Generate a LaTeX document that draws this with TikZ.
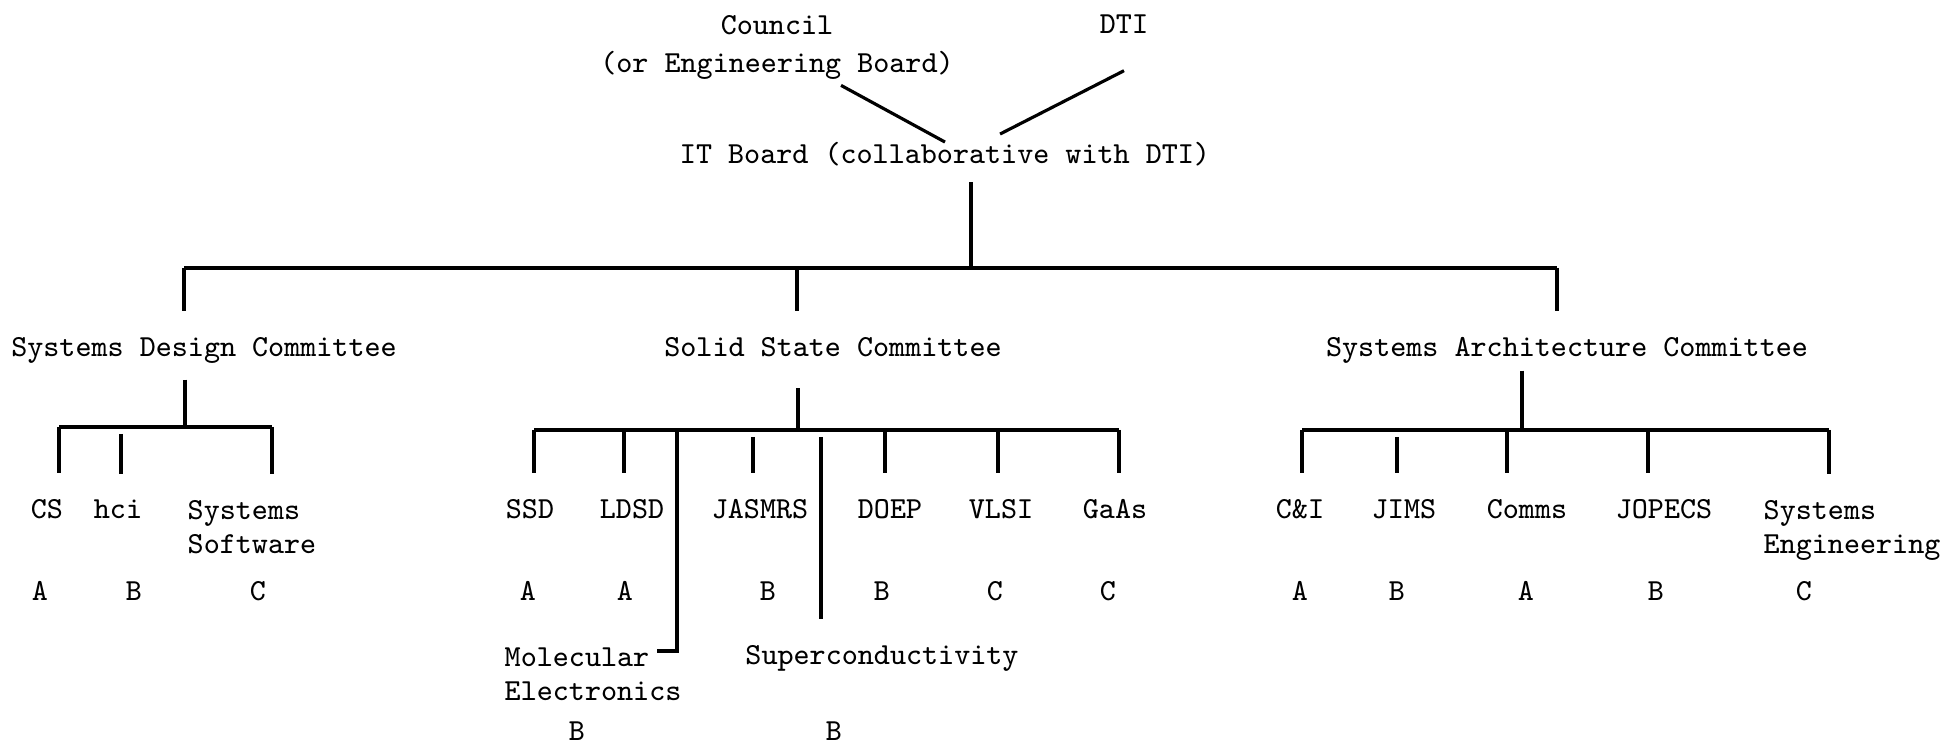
\documentclass[tikz,border=0pt]{standalone}
\usepackage{fontspec}
\tikzset{
  txt/.style={font=\ttfamily\fontsize{8.7}{9.7}\selectfont, inner sep=0pt, anchor=base},
  wire/.style={line width=0.9pt},
  droplink/.style={wire, shorten >=2.6mm},
  loose/.style={shorten <=0.7mm},
}
\begin{document}
\begin{tikzpicture}
    \def\x{0.01}
    \def\y{-0.01}
    \useasboundingbox (0,0) rectangle (1946*\x, 748*\y);
    % top of the tree
    \node[txt, anchor=north, align=center] (council) at (777*\x, 15*\y) {Council\\[1.1pt](or Engineering Board)};
    \node[txt] (dti) at (1124*\x, 34*\y) {DTI};
    \node[txt] (itb) at (945*\x, 164*\y) {IT Board (collaborative with DTI)};
    % committees
    \node[txt] (sdc) at (204*\x, 357*\y) {Systems Design Committee};
    \node[txt] (ssc) at (833*\x, 357*\y) {Solid State Committee};
    \node[txt] (sac) at (1567*\x, 357*\y) {Systems Architecture Committee};
    % systems design
    \node[txt] (cs) at (47*\x, 519*\y) {CS};
    \node[txt] (hci) at (118*\x, 519*\y) {hci};
    \node[txt, anchor=north west, align=left] (syssw) at (187*\x, 500*\y) {Systems\\Software};
    % solid state
    \node[txt] (ssd) at (530*\x, 519*\y) {SSD};
    \node[txt] (ldsd) at (632*\x, 519*\y) {LDSD};
    \node[txt] (jasmrs) at (760*\x, 519*\y) {JASMRS};
    \node[txt] (doep) at (890*\x, 519*\y) {DOEP};
    \node[txt] (vlsi) at (1001*\x, 519*\y) {VLSI};
    \node[txt] (gaas) at (1115*\x, 519*\y) {GaAs};
    \node[txt, anchor=north west, align=left] (molec) at (504*\x, 647*\y) {Molecular\\Electronics};
    \node[txt] (supcon) at (882*\x, 665*\y) {Superconductivity};
    % systems architecture
    \node[txt] (ci) at (1300*\x, 519*\y) {C\&I};
    \node[txt] (jims) at (1404*\x, 519*\y) {JIMS};
    \node[txt] (comms) at (1527*\x, 519*\y) {Comms};
    \node[txt] (jopecs) at (1664*\x, 519*\y) {JOPECS};
    \node[txt, anchor=north west, align=left] (syseng) at (1763*\x, 500*\y) {Systems\\Engineering};
    % grades
    \node[txt] (gcs) at (40*\x, 601*\y) {A};
    \node[txt] (ghci) at (134*\x, 601*\y) {B};
    \node[txt] (gsyssw) at (258*\x, 601*\y) {C};
    \node[txt] (gssd) at (528*\x, 601*\y) {A};
    \node[txt] (gldsd) at (625*\x, 601*\y) {A};
    \node[txt] (gjasmrs) at (768*\x, 601*\y) {B};
    \node[txt] (gdoep) at (882*\x, 601*\y) {B};
    \node[txt] (gvlsi) at (995*\x, 601*\y) {C};
    \node[txt] (ggaas) at (1108*\x, 601*\y) {C};
    \node[txt] (gmolec) at (577*\x, 741*\y) {B};
    \node[txt] (gsupcon) at (834*\x, 741*\y) {B};
    \node[txt] (gci) at (1300*\x, 601*\y) {A};
    \node[txt] (gjims) at (1397*\x, 601*\y) {B};
    \node[txt] (gcomms) at (1526*\x, 601*\y) {A};
    \node[txt] (gjopecs) at (1656*\x, 601*\y) {B};
    \node[txt] (gsyseng) at (1804*\x, 601*\y) {C};
    % council and DTI into the IT board
    \draw[wire] ([shift={(6.4mm,-0.5mm)}]council.south) -- (itb.north);
    \draw[wire] ([yshift=-3.6mm]dti.south) -- ([shift={(5.5mm,0.8mm)}]itb.north);
    % IT board to committees
    \coordinate (tl) at (184*\x, 268*\y);
    \coordinate (tc) at (797*\x, 268*\y);
    \coordinate (tm) at (971*\x, 268*\y);
    \coordinate (tr) at (1557*\x, 268*\y);
    \draw[wire, shorten <=1.5mm] (tm |- itb.south) -- (tm);
    \draw[wire] (tl) -- (tr);
    \draw[droplink] (tl) -- (tl |- sdc.north);
    \draw[droplink] (tc) -- (tc |- ssc.north);
    \draw[droplink] (tr) -- (tr |- sac.north);
    % systems design groups
    \coordinate (sdcj) at (185*\x, 427*\y);
    \coordinate (sdcl) at (59*\x, 427*\y);
    \coordinate (jhci) at (121*\x, 427*\y);
    \coordinate (sdcr) at (272*\x, 427*\y);
    \draw[wire, shorten <=1.5mm] (sdcj |- sdc.south) -- (sdcj);
    \draw[wire] (sdcl) -- (sdcr);
    \draw[droplink] (sdcl) -- (sdcl |- cs.north);
    \draw[droplink, loose] (jhci) -- (jhci |- hci.north);
    \draw[droplink] (sdcr) -- (sdcr |- syssw.north);
    % solid state groups
    \coordinate (sscj) at (798*\x, 430*\y);
    \coordinate (sscl) at (534*\x, 430*\y);
    \coordinate (jldsd) at (624*\x, 430*\y);
    \coordinate (jmol) at (677*\x, 430*\y);
    \coordinate (jjas) at (753*\x, 430*\y);
    \coordinate (jsup) at (821*\x, 430*\y);
    \coordinate (jdoep) at (885*\x, 430*\y);
    \coordinate (jvlsi) at (998*\x, 430*\y);
    \coordinate (sscr) at (1119*\x, 430*\y);
    \coordinate (mhook) at (jmol |- molec.north);
    \draw[wire, shorten <=3mm] (sscj |- ssc.south) -- (sscj);
    \draw[wire] (sscl) -- (sscr);
    \draw[droplink] (sscl) -- (sscl |- ssd.north);
    \draw[droplink] (jldsd) -- (jldsd |- ldsd.north);
    \draw[wire] (jmol) -- ([yshift=-0.4mm]mhook) -- ++(-2mm,0);
    \draw[droplink, loose] (jjas) -- (jjas |- jasmrs.north);
    \draw[droplink, loose] (jsup) -- (jsup |- supcon.north);
    \draw[droplink] (jdoep) -- (jdoep |- doep.north);
    \draw[droplink] (jvlsi) -- (jvlsi |- vlsi.north);
    \draw[droplink] (sscr) -- (sscr |- gaas.north);
    % systems architecture groups
    \coordinate (sacj) at (1522*\x, 430*\y);
    \coordinate (sacl) at (1302*\x, 430*\y);
    \coordinate (jjims) at (1397*\x, 430*\y);
    \coordinate (jcomms) at (1507*\x, 430*\y);
    \coordinate (jjopecs) at (1648*\x, 430*\y);
    \coordinate (sacr) at (1829*\x, 430*\y);
    \draw[wire, shorten <=0.6mm] (sacj |- sac.south) -- (sacj);
    \draw[wire] (sacl) -- (sacr);
    \draw[droplink] (sacl) -- (sacl |- ci.north);
    \draw[droplink, loose] (jjims) -- (jjims |- jims.north);
    \draw[droplink] (jcomms) -- (jcomms |- comms.north);
    \draw[droplink] (jjopecs) -- (jjopecs |- jopecs.north);
    \draw[droplink] (sacr) -- (sacr |- syseng.north);
\end{tikzpicture}
\end{document}
